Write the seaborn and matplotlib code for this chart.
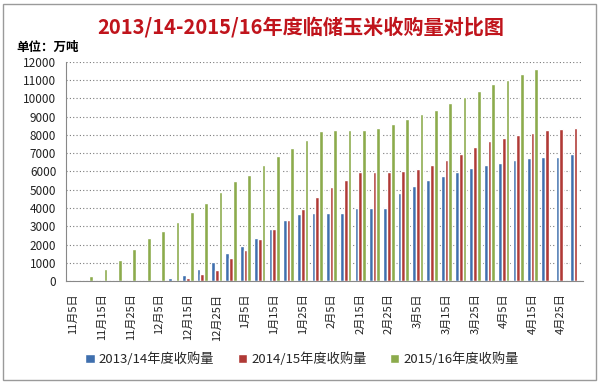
import numpy as np
import pandas as pd
import matplotlib.pyplot as plt
import seaborn as sns
from matplotlib.patches import Rectangle

# categories: every 5 days from Nov 5 to Apr 30
months = ['11月', '12月', '1月', '2月', '3月', '4月']
days = [5, 10, 15, 20, 25, 30]
dates = [f'{m}{d}日' for m in months for d in days]

s1314 = [0, 0, 0, 0, 0, 0, 80, 190, 310, 640, 1020, 1520,
         1900, 2370, 2860, 3320, 3650, 3700, 3700, 3740, 4010, 4010, 4010, 4840,
         5180, 5510, 5730, 5970, 6190, 6370, 6480, 6610, 6720, 6810, 6810, 6950]
s1415 = [0, 0, 0, 0, 0, 0, 0, 30, 150, 370, 600, 1240,
         1720, 2280, 2830, 3320, 3920, 4580, 5150, 5510, 5970, 5970, 5970, 6000,
         6110, 6330, 6610, 6950, 7320, 7660, 7810, 7990, 8120, 8250, 8300, 8360]
s1516 = [70, 257, 660, 1130, 1740, 2380, 2720, 3220, 3760, 4300, 4850, 5460,
         5820, 6370, 6860, 7300, 7740, 8190, 8280, 8280, 8280, 8390, 8610, 8850,
         9140, 9380, 9740, 10050, 10380, 10770, 11020, 11350, 11620, 0, 0, 0]

series = ['2013/14年度收购量', '2014/15年度收购量', '2015/16年度收购量']
colors = ['#3f6fae', '#b03a36', '#8cab4c']

df = pd.DataFrame({
    'date': dates * 3,
    'value': s1314 + s1415 + s1516,
    'season': [series[0]] * 36 + [series[1]] * 36 + [series[2]] * 36,
})

sns.set_style('white')
plt.rcParams['font.family'] = ['Noto Sans CJK SC', 'DejaVu Sans']

fig = plt.figure(figsize=(6.02, 3.84), dpi=100)
ax = fig.add_axes([0.1096, 0.268, 0.8584, 0.571])

sns.barplot(data=df, x='date', y='value', hue='season', hue_order=series,
            palette=colors, width=0.78, ax=ax, legend=True, saturation=1)

ax.set_ylim(0, 12000)
ax.set_xlim(-0.5, 35.5)
ax.set_yticks(np.arange(0, 12001, 1000))
ax.set_yticklabels([str(v) for v in range(0, 12001, 1000)], fontsize=8.5, color='#222222')
ax.yaxis.grid(True, linestyle=(0, (1, 2)), color='#7a7a7a', linewidth=0.8)
ax.set_axisbelow(True)

ax.set_xticks(np.arange(0, 36, 2))
ax.set_xticklabels(dates[::2], rotation=90, fontsize=8, color='#222222')
ax.set_xticks(np.arange(-0.5, 36, 1), minor=True)
ax.tick_params(axis='x', which='major', length=0, pad=9)
ax.tick_params(axis='x', which='minor', length=4, color='#888888', width=0.8)
ax.tick_params(axis='y', length=4, color='#888888', width=0.8, pad=3)
ax.set_xlabel('')
ax.set_ylabel('')

for side in ['top', 'right']:
    ax.spines[side].set_visible(False)
for side in ['left', 'bottom']:
    ax.spines[side].set_color('#888888')
    ax.spines[side].set_linewidth(0.8)

ax.legend(loc='center', bbox_to_anchor=(0.457, -0.355), ncol=3, frameon=False,
          fontsize=9.5, handlelength=0.7, handleheight=0.7, handletextpad=0.3,
          columnspacing=1.8)

fig.text(0.5, 0.93, '2013/14-2015/16年度临储玉米收购量对比图', ha='center', va='center',
         fontsize=14.5, fontweight='bold', color='#c0141c')
fig.text(0.027, 0.876, '单位：万吨', ha='left', va='center', fontsize=9,
         fontweight='bold', color='black')

fig.patches.append(Rectangle((0.005, 0.01), 0.985, 0.98, transform=fig.transFigure,
                             fill=False, edgecolor='#9a9a9a', linewidth=1))

fig.savefig('out.png', dpi=100)
